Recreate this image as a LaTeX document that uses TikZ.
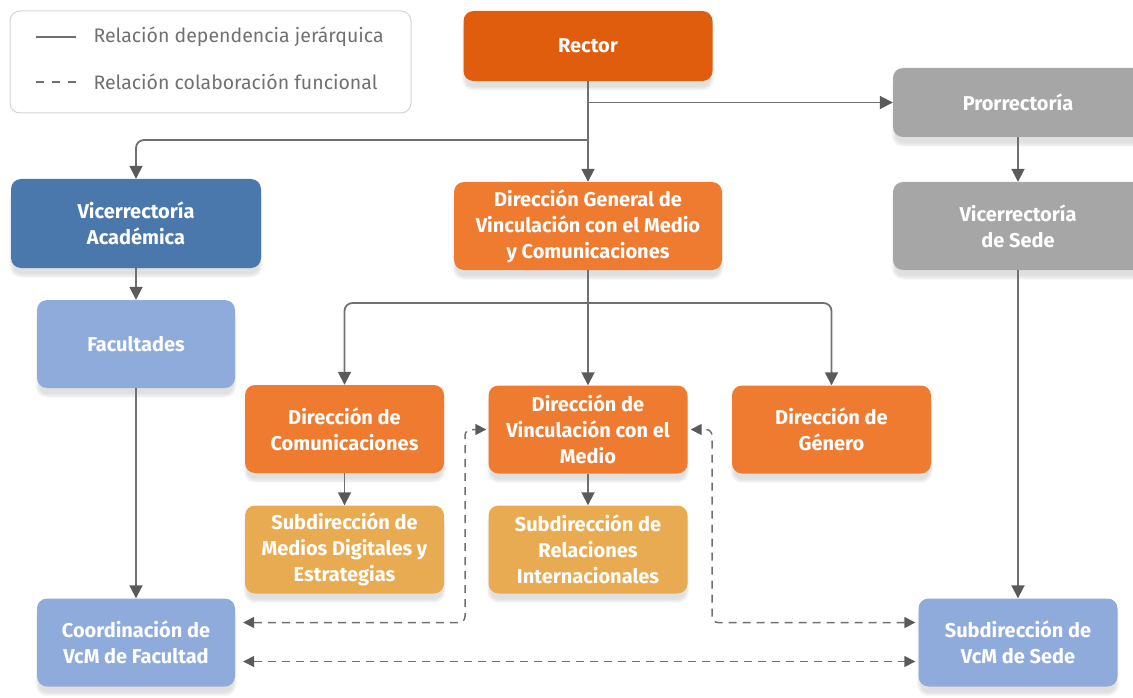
\documentclass[tikz,border=0pt]{standalone}
\usepackage{fontspec}
\setmainfont{Fira Sans}
\usetikzlibrary{arrows.meta,positioning,shadows.blur}
\definecolor{rectorc}{HTML}{E05D0E}
\definecolor{orangec}{HTML}{EE7B30}
\definecolor{subc}{HTML}{E9AB51}
\definecolor{bluec}{HTML}{4A77AC}
\definecolor{lbluec}{HTML}{8EABDB}
\definecolor{grayc}{HTML}{A6A6A6}
\definecolor{linec}{HTML}{707070}
\definecolor{tipc}{HTML}{5A5A5A}
\definecolor{legc}{HTML}{D4D4D4}

\begin{document}
\begin{tikzpicture}[x=1pt, y=-1pt,
  box/.style={rounded corners=10pt, minimum width=199pt, minimum height=88pt, align=center,
    text=white, font=\fontsize{20}{26}\selectfont\bfseries,
    blur shadow={shadow xshift=0pt, shadow yshift=-8pt, shadow blur steps=8, shadow opacity=12}},
  link/.style={draw=linec, line width=1.8pt, -{Triangle[length=13pt, width=13pt, color=tipc]}},
  collab/.style={draw=linec, line width=1.5pt, dash pattern=on 8pt off 6pt,
    {Triangle[length=11pt, width=11pt, color=tipc]}-{Triangle[length=11pt, width=11pt, color=tipc]}},
  legtext/.style={anchor=west, text=linec, font=\fontsize{19.5}{21}\selectfont}]
\useasboundingbox (0,0) rectangle (1133,698);

% legend
\node[draw=legc, line width=1pt, rounded corners=10pt, minimum width=401pt, minimum height=102pt] (legend) at (210.5,62) {};
\node[legtext] (legsolid) at (90,37) {Relación dependencia jerárquica};
\node[legtext] (legdash) at (90,82) {Relación colaboración funcional};
\draw[draw=linec, line width=1.8pt] ([xshift=-14pt]legsolid.west) -- ++(-40,0);
\draw[draw=linec, line width=1.8pt, dash pattern=on 8pt off 8pt] ([xshift=-14pt]legdash.west) -- ++(-40,0);

% boxes
\node[box, fill=rectorc, minimum width=249pt, minimum height=70pt] (rector) at (588,46) {Rector};
\node[box, fill=grayc, minimum width=250pt, minimum height=69pt] (prorr) at (1018,102.5) {Prorrectoría};
\node[box, fill=bluec, minimum width=250pt, minimum height=89pt] (viceac) at (136,223.5) {Vicerrectoría\\Académica};
\node[box, fill=orangec, minimum width=268pt] (dgvcm) at (588,226) {Dirección General de\\Vinculación con el Medio\\y Comunicaciones};
\node[box, fill=grayc, minimum width=250pt] (vicesede) at (1018,226) {Vicerrectoría\\de Sede};
\node[box, fill=lbluec, minimum width=198pt] (facu) at (136,344) {Facultades};
\node[box, fill=orangec] (dcom) at (344.5,429) {Dirección de\\Comunicaciones};
\node[box, fill=orangec] (dvcm) at (588,429.5) {Dirección de\\Vinculación con el\\Medio};
\node[box, fill=orangec] (dgen) at (831.5,429.5) {Dirección de\\Género};
\node[box, fill=subc] (smed) at (344.5,549.5) {Subdirección de\\Medios Digitales y\\Estrategias};
\node[box, fill=subc] (srri) at (588,549.5) {Subdirección de\\Relaciones\\Internacionales};
\node[box, fill=lbluec, minimum width=198pt] (cfac) at (136,642.5) {Coordinación de\\VcM de Facultad};
\node[box, fill=lbluec] (ssede) at (1018,642.5) {Subdirección de\\VcM de Sede};

% jerarquia
\coordinate (splitac) at (588,140);
\coordinate (splitdir) at (588,303);
\draw[link] (rector) -- (dgvcm);
\draw[link] (rector.south |- prorr.west) -- (prorr.west);
\draw[link, rounded corners=8pt] (splitac) -- (viceac.north |- splitac) -- (viceac.north);
\draw[link] (prorr) -- (vicesede);
\draw[link] (vicesede) -- (ssede);
\draw[link] (viceac) -- (facu);
\draw[link] (facu) -- (cfac);
\draw[link] (dgvcm) -- (dvcm);
\draw[link, rounded corners=8pt] (splitdir) -- (dcom.north |- splitdir) -- (dcom.north);
\draw[link, rounded corners=8pt] (splitdir) -- (dgen.north |- splitdir) -- (dgen.north);
\draw[link] (dcom) -- (smed);
\draw[link] (dvcm) -- (srri);

% colaboracion
\coordinate (dashl) at (465,0);
\coordinate (dashr) at (712,0);
\draw[collab, rounded corners=6pt, shorten <=8pt, shorten >=2pt] ([yshift=20pt]cfac.east) -| (dashl |- dvcm.west) -- (dvcm.west);
\draw[collab, rounded corners=6pt, shorten <=3pt, shorten >=3pt] ([yshift=20pt]ssede.west) -| (dashr |- dvcm.east) -- (dvcm.east);
\draw[collab, shorten <=8pt, shorten >=3pt] ([yshift=-19pt]cfac.east) -- ([yshift=-19pt]ssede.west);
\end{tikzpicture}
\end{document}
